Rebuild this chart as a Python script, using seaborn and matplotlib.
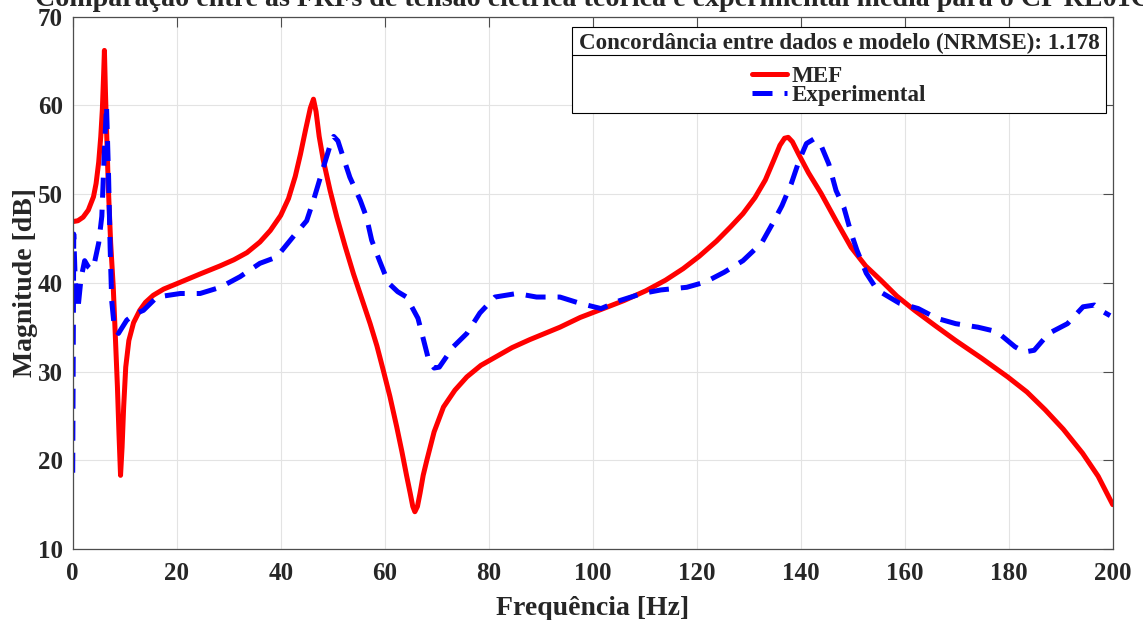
import matplotlib
matplotlib.use("Agg")
import matplotlib.pyplot as plt
import seaborn as sns
from matplotlib.lines import Line2D

# ----------------------------------------------------------
# Data
# ----------------------------------------------------------
# MEF (numerical model)
freq_mef = [0, 1.0, 2.0, 3.0, 4.0, 4.5, 5.0, 5.4, 5.7, 5.95, 6.1, 6.3, 6.5,
            6.85, 7.3, 7.8, 8.2, 8.6, 8.9, 9.2, 9.5, 9.8, 10.2, 10.8, 11.7,
            12.9, 14.0, 15.5, 17.5, 20.0, 24.5, 28.3, 31.0, 33.5, 36.0, 38.0,
            40.0, 41.5, 42.8, 43.8, 44.8, 45.7, 46.3, 46.8, 47.4, 48.2, 49.5,
            50.8, 52.4, 54.0, 55.6, 57.2, 58.5, 59.7, 61.0, 62.3, 63.3, 64.2,
            64.9, 65.4, 65.8, 66.3, 66.8, 67.4, 68.1, 69.5, 71.3, 73.5, 75.8,
            78.5, 81.5, 84.5, 87.9, 93.7, 97.6, 101.6, 106.0, 110.2, 114.0,
            117.4, 120.5, 123.8, 126.5, 128.9, 131.2, 133.2, 134.8, 136.0,
            136.9, 137.6, 138.4, 139.6, 141.5, 143.9, 146.8, 149.7, 152.5,
            155.4, 158.5, 161.9, 165.8, 169.8, 174.8, 179.8, 183.5, 187.0,
            190.5, 194.2, 197.2, 200.0]
mag_mef = [46.9, 47.0, 47.4, 48.2, 49.7, 51.2, 53.6, 56.5, 59.5, 63.5, 66.2,
           61.5, 57.5, 50.8, 44.5, 39.5, 34.0, 28.3, 23.0, 18.3, 21.5, 26.0,
           30.5, 33.5, 35.5, 36.9, 37.8, 38.6, 39.3, 39.9, 41.0, 41.9, 42.6,
           43.4, 44.6, 45.9, 47.6, 49.5, 52.0, 54.5, 57.3, 59.7, 60.7, 59.3,
           56.5, 53.8, 50.4, 47.4, 44.1, 41.0, 38.2, 35.4, 32.9, 30.2, 27.2,
           23.8, 21.0, 18.3, 16.3, 14.8, 14.2, 14.8, 16.3, 18.3, 20.0, 23.2,
           26.0, 27.9, 29.4, 30.7, 31.7, 32.7, 33.6, 35.0, 36.1, 37.0, 38.0,
           39.1, 40.3, 41.6, 43.0, 44.7, 46.3, 47.8, 49.6, 51.6, 53.8, 55.5,
           56.3, 56.4, 55.9, 54.5, 52.4, 50.1, 47.0, 44.0, 41.9, 40.3, 38.5,
           36.9, 35.2, 33.5, 31.5, 29.4, 27.7, 25.7, 23.5, 20.8, 18.2, 15.0]

# Experimental (measured average)
freq_exp = [0, 0.2, 0.5, 1.0, 1.6, 2.3, 3.0, 3.6, 4.2, 5.0, 5.6, 6.1, 6.5,
            6.9, 7.2, 7.5, 8.0, 8.8, 10.4, 12.0, 13.6, 16.2, 20.7, 24.5, 28.4,
            32.2, 36.0, 39.2, 42.4, 45.0, 46.3, 48.2, 49.4, 50.2, 51.0, 52.0,
            53.3, 55.3, 56.5, 57.5, 59.0, 60.7, 62.5, 64.2, 66.4, 67.5, 68.5,
            69.5, 70.5, 73.2, 75.8, 78.3, 81.2, 85.4, 89.2, 93.7, 97.5, 101.6,
            105.2, 109.5, 113.1, 118.1, 121.7, 125.3, 128.9, 132.5, 134.6,
            136.4, 138.2, 139.7, 141.1, 142.5, 143.9, 145.4, 146.8, 148.3,
            149.7, 150.8, 152.6, 154.7, 159.0, 162.6, 166.2, 169.8, 174.1,
            177.7, 181.2, 183.0, 184.9, 187.7, 191.3, 194.3, 196.5, 198.3,
            199.5]
mag_exp = [18.6, 45.5, 40.0, 37.0, 40.5, 42.5, 41.8, 41.5, 42.3, 44.5, 47.5,
           55.0, 60.0, 52.0, 44.0, 38.0, 35.0, 34.3, 35.8, 36.5, 36.9, 38.4,
           38.8, 38.8, 39.5, 40.7, 42.2, 42.9, 45.2, 47.0, 49.3, 53.0, 55.3,
           56.5, 56.0, 54.2, 51.9, 49.3, 47.4, 44.8, 42.5, 40.0, 39.0, 38.4,
           36.0, 33.5, 31.2, 30.4, 30.5, 32.8, 34.3, 36.6, 38.4, 38.8, 38.4,
           38.4, 37.7, 37.1, 38.0, 38.8, 39.2, 39.5, 40.1, 41.2, 42.5, 44.5,
           46.7, 48.7, 51.2, 53.8, 55.7, 56.2, 55.5, 53.4, 50.4, 48.5, 45.6,
           43.7, 41.1, 39.2, 37.7, 37.1, 36.0, 35.4, 35.0, 34.5, 32.8, 32.2,
           32.4, 34.3, 35.4, 37.3, 37.5, 36.7, 36.3]

x_ticks = list(range(0, 201, 20))
y_ticks = list(range(10, 71, 10))

title_txt = ("Comparação entre as FRFs de tensão elétrica teórica e "
             "experimental média para o CP RE01C")
legend_title = "Concordância entre dados e modelo (NRMSE): 1.178"

# ----------------------------------------------------------
# Style
# ----------------------------------------------------------
sns.set_style("whitegrid")
plt.rcParams['font.family'] = ['Liberation Serif', 'DejaVu Serif']
plt.rcParams['font.weight'] = 'bold'
plt.rcParams['axes.labelweight'] = 'bold'
plt.rcParams['axes.titleweight'] = 'bold'

fig, ax = plt.subplots(figsize=(11.43, 6.2), dpi=100)
fig.subplots_adjust(left=0.0636, right=0.9735, bottom=0.1145, top=0.9731)

sns.lineplot(x=freq_mef, y=mag_mef, color='#ff0000', linewidth=3.6,
             label='MEF', ax=ax)
sns.lineplot(x=freq_exp, y=mag_exp, color='#0000ff', linewidth=3.6,
             linestyle=(0, (4, 2.4)), label='Experimental', ax=ax)

ax.set_xlim(0, 200)
ax.set_ylim(10, 70)
ax.set_xticks(x_ticks)
ax.set_yticks(y_ticks)

ax.grid(True, color='#e3e3e3', linewidth=0.8)
for sp in ax.spines.values():
    sp.set_color('#4d4d4d')
    sp.set_linewidth(0.9)
ax.tick_params(direction='in', length=7.5, width=0.8, color='#4d4d4d',
               top=True, right=True, labelsize=18, pad=7)
ax.tick_params(axis='x', pad=9)

ax.set_xlabel("Frequência [Hz]", fontsize=20, labelpad=8)
ax.set_ylabel("Magnitude [dB]", fontsize=20, labelpad=0)
# the title is wider than the figure, as in the original export
ax.set_title(title_txt, fontsize=20.2, pad=7.5)

leg = ax.legend(title=legend_title, loc='upper right',
                bbox_to_anchor=(0.9935, 0.981), borderaxespad=0,
                fancybox=False, framealpha=1, edgecolor='black',
                fontsize=16.6,
                title_fontproperties={'weight': 'bold', 'size': 16.6},
                alignment='center', handlelength=1.5, handletextpad=0.2,
                labelspacing=-0.06, borderpad=0.28)
leg.get_frame().set_linewidth(0.8)
# extra room between the legend title and the entries
leg._legend_box.sep = 8

# separator line between legend title and entries
fig.canvas.draw()
lb = leg.get_window_extent()
tb = leg.get_title().get_window_extent()
y_sep = tb.y0 - 1
inv = fig.transFigure.inverted()
(x0, ys), (x1, _) = inv.transform([(lb.x0, y_sep), (lb.x1, y_sep)])
fig.add_artist(Line2D([x0, x1], [ys, ys], color='black', linewidth=0.8))

fig.savefig("out.png", dpi=100)
